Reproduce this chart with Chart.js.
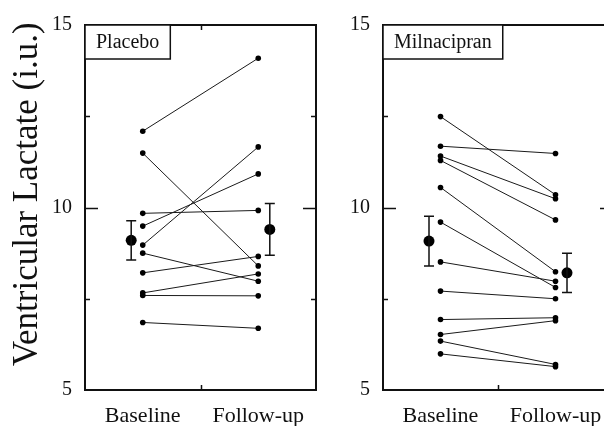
<!DOCTYPE html>
<html>
<head>
<meta charset="utf-8">
<script src="https://cdn.jsdelivr.net/npm/chart.js@4/dist/chart.umd.min.js"></script>
<style>
  html, body { margin: 0; padding: 0; background: #fff; overflow: hidden; }
  #wrap { position: relative; width: 604px; height: 426px; overflow: hidden; }
  #left { position: absolute; left: 0; top: 0; }
  #right { position: absolute; left: 330px; top: 0; }
</style>
</head>
<body>
<div id="wrap">
  <canvas id="left" width="330" height="426"></canvas>
  <canvas id="right" width="300" height="426"></canvas>
</div>
<script>
'use strict'

var visits = ['Baseline', 'Follow-up'];
var yTicks = [5, 10, 15];

var placeboBaseline = [12.09, 11.49, 9.84, 9.49, 8.97, 8.75, 8.21, 7.66, 7.59, 6.85];
var placeboFollowup = [14.09, 8.40, 9.92, 10.92, 11.66, 7.98, 8.66, 8.18, 7.58, 6.69];
var placeboMean = [9.10, 9.40];
var placeboSem = [0.54, 0.71];

var milnaBaseline = [12.49, 11.68, 11.41, 11.29, 10.55, 9.60, 8.51, 7.71, 6.93, 6.52, 6.34, 5.99];
var milnaFollowup = [10.35, 11.48, 10.24, 9.66, 8.24, 7.81, 7.98, 7.50, 6.98, 6.90, 5.70, 5.64];
var milnaMean = [9.08, 8.21];
var milnaSem = [0.68, 0.54];

var SERIF = "'Liberation Serif', 'Times New Roman', serif";

// frame, inward ticks, group label box and error bars
var panelPlugin = {
  id: 'panel',
  afterDatasetsDraw: function (chart) {
    var o = chart.options.plugins.panel;
    var xs = chart.scales.x, ys = chart.scales.y;
    var ctx = chart.ctx;
    ctx.save();
    ctx.strokeStyle = '#111';
    ctx.lineWidth = 1.5;
    o.mean.forEach(function (m, i) {
      var x = xs.getPixelForValue(o.meanX[i]);
      var t = ys.getPixelForValue(m + o.sem[i]);
      var b = ys.getPixelForValue(m - o.sem[i]);
      ctx.beginPath();
      ctx.moveTo(x, t); ctx.lineTo(x, b);
      ctx.moveTo(x - 5, t); ctx.lineTo(x + 5, t);
      ctx.moveTo(x - 5, b); ctx.lineTo(x + 5, b);
      ctx.stroke();
    });
    ctx.restore();
  },
  afterDraw: function (chart) {
    var o = chart.options.plugins.panel;
    var a = chart.chartArea;
    var xs = chart.scales.x, ys = chart.scales.y;
    var ctx = chart.ctx;
    ctx.save();
    ctx.strokeStyle = '#111';
    ctx.lineWidth = 2;
    ctx.strokeRect(a.left, a.top, a.right - a.left, a.bottom - a.top);

    ctx.beginPath();
    [7.5, 10, 12.5].forEach(function (v) {
      var y = Math.round(ys.getPixelForValue(v)) + 0.5;
      var len = v === 10 ? 13 : 5;
      ctx.moveTo(a.left, y); ctx.lineTo(a.left + len, y);
      ctx.moveTo(a.right, y); ctx.lineTo(a.right - len, y);
    });
    var cx = Math.round(xs.getPixelForValue(2)) + 0.5;
    ctx.moveTo(cx, a.top); ctx.lineTo(cx, a.top + 5);
    ctx.moveTo(cx, a.bottom); ctx.lineTo(cx, a.bottom - 5);
    ctx.lineWidth = 1.5;
    ctx.stroke();

    // group label box
    ctx.font = '20px ' + SERIF;
    var w = ctx.measureText(o.label).width + 22;
    ctx.fillStyle = '#fff';
    ctx.fillRect(a.left, a.top, w, 34);
    ctx.strokeRect(a.left, a.top, w, 34);
    ctx.fillStyle = '#111';
    ctx.textBaseline = 'middle';
    ctx.fillText(o.label, a.left + 11, a.top + 18);
    ctx.restore();
  }
};

function makePanel(id, label, baseline, followup, mean, sem, axisWidth, padRight, showTitle) {
  var datasets = baseline.map(function (b, i) {
    return {
      data: [{ x: 1, y: b }, { x: 3, y: followup[i] }],
      borderColor: '#1a1a1a',
      borderWidth: 1,
      pointRadius: 2.8,
      pointBorderWidth: 0,
      pointBackgroundColor: '#000'
    };
  });
  datasets.push({
    data: [{ x: 0.8, y: mean[0] }, { x: 3.2, y: mean[1] }],
    showLine: false,
    pointRadius: 5.5,
    pointBorderWidth: 0,
    pointBackgroundColor: '#000'
  });

  return new Chart(document.getElementById(id), {
    type: 'line',
    data: { datasets: datasets },
    options: {
      responsive: false,
      animation: false,
      layout: { padding: { top: 21, right: padRight, left: 0, bottom: 0 } },
      plugins: {
        legend: { display: false },
        tooltip: { enabled: false },
        panel: { label: label, mean: mean, sem: sem, meanX: [0.8, 3.2] }
      },
      scales: {
        x: {
          type: 'linear',
          min: 0,
          max: 4,
          grid: { display: false, drawTicks: false },
          border: { display: false },
          afterBuildTicks: function (scale) {
            scale.ticks = [{ value: 1 }, { value: 3 }];
          },
          afterFit: function (scale) { scale.height = 36; },
          ticks: {
            padding: 13,
            color: '#111',
            font: { family: SERIF, size: 22 },
            maxRotation: 0,
            autoSkip: false,
            callback: function (v, i) { return visits[i]; }
          }
        },
        y: {
          min: 5,
          max: 15,
          grid: { display: false, drawTicks: false },
          border: { display: false },
          afterBuildTicks: function (scale) {
            scale.ticks = yTicks.map(function (v) { return { value: v }; });
          },
          afterFit: function (scale) { scale.width = axisWidth; },
          ticks: {
            padding: 13,
            color: '#111',
            font: { family: SERIF, size: 20 }
          },
          title: {
            display: showTitle,
            // leading spaces nudge the label up a bit, like the original
            text: '\u00a0\u00a0\u00a0Ventricular Lactate (i.u.)',
            color: '#111',
            font: { family: SERIF, size: 35 },
            padding: { top: 7, bottom: 0 }
          }
        }
      }
    },
    plugins: [panelPlugin]
  });
}

makePanel('left', 'Placebo', placeboBaseline, placeboFollowup, placeboMean, placeboSem, 85, 14, true);
makePanel('right', 'Milnacipran', milnaBaseline, milnaFollowup, milnaMean, milnaSem, 53, 17, false);
</script>
</body>
</html>
